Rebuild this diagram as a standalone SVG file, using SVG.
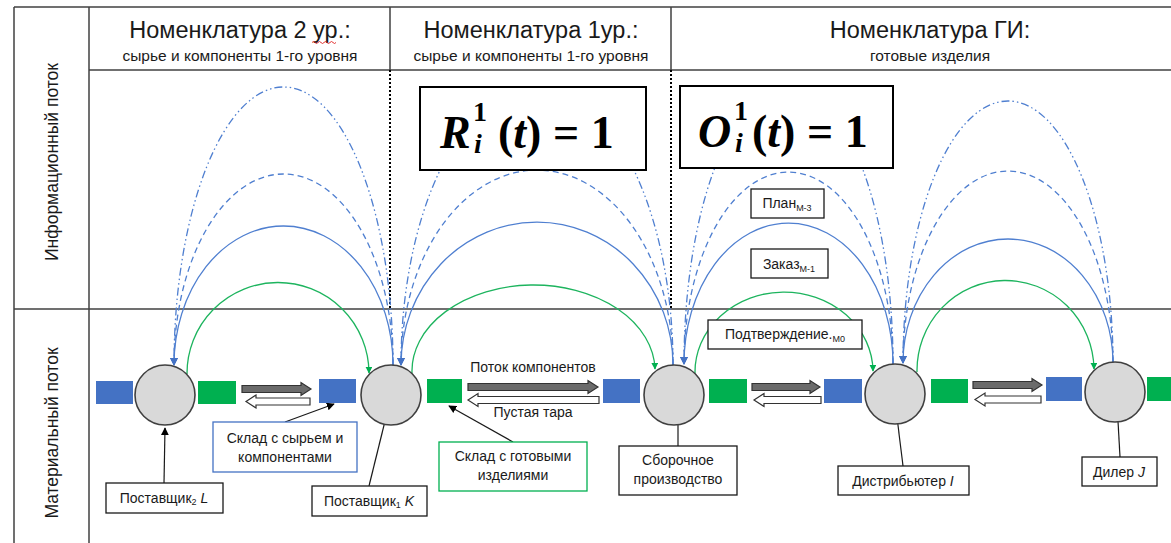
<svg xmlns="http://www.w3.org/2000/svg" width="1171" height="543" viewBox="0 0 1171 543">
  <defs>
    <style>
      .grid { stroke: #404040; stroke-width: 1.5; fill: none; }
      .dots { stroke: #000; stroke-width: 2; stroke-dasharray: 2 2; fill: none; }
      .h1 { font-family: "Liberation Sans", Arial, sans-serif; font-size: 23.5px; fill: #1a1a1a; text-anchor: middle; }
      .h2 { font-family: "Liberation Sans", Arial, sans-serif; font-size: 15.5px; fill: #1a1a1a; text-anchor: middle; }
      .axis { font-family: "Liberation Sans", Arial, sans-serif; font-size: 17.5px; fill: #1a1a1a; text-anchor: middle; }
      .lbl { font-family: "Liberation Sans", Arial, sans-serif; font-size: 14px; fill: #1a1a1a; text-anchor: middle; }
      .box { fill: #fff; stroke: #1a1a1a; stroke-width: 1.3; }
      .box-blue { fill: #fff; stroke: #4472C4; stroke-width: 1.3; }
      .box-green { fill: #fff; stroke: #00B050; stroke-width: 1.3; }
      .fbox { fill: #fff; stroke: #000; stroke-width: 2; }
      .formula { font-family: "Liberation Serif", "Times New Roman", serif; font-weight: bold; fill: #000; }
      .node { fill: #D9D9D9; stroke: #404040; stroke-width: 1.6; }
      .raw { fill: #4472C4; }
      .fin { fill: #00B050; }
      .fwd { fill: #6b6b6b; stroke: #333; stroke-width: 1.2; }
      .back { fill: #fff; stroke: #333; stroke-width: 1.2; }
      .info { fill: none; stroke: #4F7FD0; stroke-width: 1.3; marker-end: url(#tipBlue); }
      .solid { }
      .dash { stroke-dasharray: 6 4; }
      .dashdot { stroke-dasharray: 8 3 1.5 3 1.5 3; }
      .conf { fill: none; stroke: #1DB45E; stroke-width: 1.3; marker-end: url(#tipGreen); }
      .ptr { fill: none; stroke: #1a1a1a; stroke-width: 1.2; marker-end: url(#tipBlack); }
    </style>
    <marker id="tipBlue" viewBox="0 0 10 10" refX="9" refY="5" markerWidth="8" markerHeight="8" markerUnits="userSpaceOnUse" orient="auto">
      <path d="M0,0 L10,5 L0,10 Z" fill="#4472C4"/>
    </marker>
    <marker id="tipGreen" viewBox="0 0 10 10" refX="9" refY="5" markerWidth="7" markerHeight="7" markerUnits="userSpaceOnUse" orient="auto">
      <path d="M0,0 L10,5 L0,10 Z" fill="#00B050"/>
    </marker>
    <marker id="tipBlack" viewBox="0 0 10 10" refX="9" refY="5" markerWidth="8" markerHeight="8" markerUnits="userSpaceOnUse" orient="auto">
      <path d="M0,0 L10,5 L0,10 Z" fill="#000"/>
    </marker>
  </defs>

  <rect width="1171" height="543" fill="#fff"/>

  <!-- table frame -->
  <g id="table">
    <line class="grid" x1="14" y1="7" x2="1171" y2="7"/>
    <line class="grid" x1="14" y1="7" x2="14" y2="543"/>
    <line class="grid" x1="89" y1="7" x2="89" y2="543"/>
    <line class="grid" x1="89" y1="70" x2="1171" y2="70"/>
    <line class="grid" x1="14" y1="309" x2="1171" y2="309"/>
    <line class="grid" x1="390" y1="7" x2="390" y2="70"/>
    <line class="grid" x1="671" y1="7" x2="671" y2="70"/>
    <line class="dots" x1="390" y1="70" x2="390" y2="309"/>
    <line class="dots" x1="671" y1="70" x2="671" y2="309"/>
  </g>

  <!-- column headers -->
  <g id="header-level2">
    <text class="h1" x="240" y="38">Номенклатура 2 ур.:</text>
    <path d="M312,42.5 q1.5,-2 3,0 t3,0 t3,0 t3,0 t3,0 t3,0 t3,0 t3,0" fill="none" stroke="#e02020" stroke-width="0.9"/>
    <text class="h2" x="240" y="61">сырье и компоненты 1-го уровня</text>
  </g>
  <g id="header-level1">
    <text class="h1" x="531" y="38">Номенклатура 1ур.:</text>
    <text class="h2" x="531" y="61">сырье и компоненты 1-го уровня</text>
  </g>
  <g id="header-finished">
    <text class="h1" x="930" y="38">Номенклатура ГИ:</text>
    <text class="h2" x="930" y="61">готовые изделия</text>
  </g>

  <!-- row labels -->
  <g id="row-info">
    <text class="axis" transform="translate(58,162) rotate(-90)">Информационный поток</text>
  </g>
  <g id="row-material">
    <text class="axis" transform="translate(58,433) rotate(-90)">Материальный поток</text>
  </g>

  <!-- information (blue) and confirmation (green) arcs -->
  <g id="connectors">
    <!-- Поставщик2 L <-> Поставщик1 K -->
    <path class="info dashdot" d="M393,365 A109.5,278 0 0 0 174,365"/>
    <path class="info dash" d="M393,365 A109.5,191 0 0 0 174,365"/>
    <path class="info solid" d="M393,365 A109.5,139 0 0 0 174,365"/>
    <path class="conf" d="M187,374 A91,91 0 0 1 369,373"/>

    <!-- Поставщик1 K <-> Сборочное производство -->
    <path class="info dashdot" d="M673,365 A136,278 0 0 0 401,365"/>
    <path class="info dash" d="M673,365 A136,195 0 0 0 401,365"/>
    <path class="info solid" d="M673,365 A136,143 0 0 0 401,365"/>
    <path class="conf" d="M412,373 A121.5,86 0 0 1 655,369"/>

    <!-- Сборочное производство <-> Дистрибьютер I -->
    <path class="info dashdot" d="M893,364 A104.5,277 0 0 0 684,364"/>
    <path class="info dash" d="M893,364 A104.5,192 0 0 0 684,364"/>
    <path class="info solid" d="M893,364 A104.5,141 0 0 0 684,364"/>
    <path class="conf" d="M695,373 A89,80 0 0 1 873,371"/>

    <!-- Дистрибьютер I <-> Дилер J -->
    <path class="info dashdot" d="M1113,363 A105,262 0 0 0 903,363"/>
    <path class="info dash" d="M1113,363 A105,192 0 0 0 903,363"/>
    <path class="info solid" d="M1113,363 A105,124 0 0 0 903,363"/>
    <path class="conf" d="M917,372 A88.5,90 0 0 1 1094,369"/>

    <!-- material flow block arrows: goods forward, empty containers back -->
    <path class="fwd" d="M242,385.5 L301,385.5 L301,382.5 L311,389 L301,395.5 L301,392.5 L242,392.5 Z"/>
    <path class="back" d="M310,398 L256,398 L256,395 L246,401.5 L256,408 L256,405 L310,405 Z"/>

    <path class="fwd" d="M468,383.5 L588,383.5 L588,380.5 L598,387 L588,393.5 L588,390.5 L468,390.5 Z"/>
    <path class="back" d="M599,396.5 L478,396.5 L478,393.5 L468,400 L478,406.5 L478,403.5 L599,403.5 Z"/>

    <path class="fwd" d="M752,383.5 L810,383.5 L810,380.5 L820,387 L810,393.5 L810,390.5 L752,390.5 Z"/>
    <path class="back" d="M821,396.5 L764,396.5 L764,393.5 L754,400 L764,406.5 L764,403.5 L821,403.5 Z"/>

    <path class="fwd" d="M973,381.5 L1032,381.5 L1032,378.5 L1042,385 L1032,391.5 L1032,388.5 L973,388.5 Z"/>
    <path class="back" d="M1041,396 L985,396 L985,393 L975,399.5 L985,406 L985,403 L1041,403 Z"/>

    <!-- callout pointers -->
    <line class="ptr" x1="164" y1="483" x2="165" y2="428"/>
    <line class="ptr" x1="285" y1="422" x2="334" y2="404"/>
    <line class="ptr" x1="369" y1="486" x2="388" y2="409"/>
    <line class="ptr" x1="513" y1="442" x2="449" y2="406"/>
    <line class="ptr" x1="678" y1="446" x2="678" y2="401"/>
    <line class="ptr" x1="903" y1="466" x2="895" y2="401"/>
    <line class="ptr" x1="1120" y1="457" x2="1117" y2="403"/>
  </g>

  <!-- flow labels -->
  <g id="flow-labels">
    <text class="lbl" font-size="14.5" x="533" y="372">Поток компонентов</text>
    <text class="lbl" font-size="14.5" x="533" y="417">Пустая тара</text>
  </g>

  <!-- storage blocks -->
  <g id="stocks">
    <rect class="raw" x="96" y="381" width="37" height="23"/>
    <rect class="fin" x="198" y="381" width="38" height="23"/>
    <rect class="raw" x="319" y="379" width="37" height="24"/>
    <rect class="fin" x="427" y="379" width="35" height="24"/>
    <rect class="raw" x="603" y="379" width="37" height="24"/>
    <rect class="fin" x="709" y="379" width="38" height="24"/>
    <rect class="raw" x="824" y="379" width="38" height="24"/>
    <rect class="fin" x="931" y="379" width="37" height="24"/>
    <rect class="raw" x="1046" y="377" width="36" height="24"/>
    <rect class="fin" x="1147" y="377" width="30" height="24"/>
  </g>

  <!-- supply chain participants -->
  <g id="node-supplier-L"><circle class="node" cx="165" cy="395" r="30"/></g>
  <g id="node-supplier-K"><circle class="node" cx="391" cy="395" r="30"/></g>
  <g id="node-assembly"><circle class="node" cx="674" cy="395" r="30"/></g>
  <g id="node-distributor"><circle class="node" cx="895" cy="394" r="30"/></g>
  <g id="node-dealer"><circle class="node" cx="1115" cy="392" r="30"/></g>

  <!-- formula boxes -->
  <g id="formula-R">
    <rect class="fbox" x="420" y="87" width="226" height="83"/>
    <text class="formula" font-size="46" x="440" y="148"><tspan font-style="italic">R</tspan></text>
    <text class="formula" font-size="28" x="473" y="121">1</text>
    <text class="formula" font-size="28" font-style="italic" x="474" y="153">i</text>
    <text class="formula" font-size="46" x="498" y="148"><tspan>(</tspan><tspan font-style="italic">t</tspan><tspan>) = 1</tspan></text>
  </g>
  <g id="formula-O">
    <rect class="fbox" x="680" y="86" width="213" height="82"/>
    <text class="formula" font-size="46" font-style="italic" x="698" y="147">O</text>
    <text class="formula" font-size="28" x="734" y="120">1</text>
    <text class="formula" font-size="28" font-style="italic" x="735" y="152">i</text>
    <text class="formula" font-size="46" x="752" y="147"><tspan>(</tspan><tspan font-style="italic">t</tspan><tspan>) = 1</tspan></text>
  </g>

  <!-- info arc labels -->
  <g id="label-plan">
    <rect class="box" x="751" y="189" width="73" height="29"/>
    <text class="lbl" font-size="13" x="787" y="208">План<tspan font-size="9" dy="3">М-3</tspan></text>
  </g>
  <g id="label-order">
    <rect class="box" x="751" y="249" width="77" height="29"/>
    <text class="lbl" font-size="13" x="789" y="269">Заказ<tspan font-size="9" dy="3">М-1</tspan></text>
  </g>
  <g id="label-confirm">
    <rect class="box" x="708" y="320" width="154" height="29"/>
    <text class="lbl" font-size="14" x="785" y="339">Подтверждение.<tspan font-size="9" dy="3">М0</tspan></text>
  </g>

  <!-- callout boxes -->
  <g id="label-raw-stock">
    <rect class="box-blue" x="213" y="422" width="144" height="50"/>
    <text class="lbl" x="285" y="443">Склад с сырьем и</text>
    <text class="lbl" x="285" y="462">компонентами</text>
  </g>
  <g id="label-supplier-L">
    <rect class="box" x="106" y="483" width="117" height="30"/>
    <text class="lbl" x="164" y="503">Поставщик<tspan font-size="9" dy="2">2</tspan><tspan dy="-2"> </tspan><tspan font-style="italic">L</tspan></text>
  </g>
  <g id="label-supplier-K">
    <rect class="box" x="312" y="486" width="115" height="30"/>
    <text class="lbl" x="369" y="506">Поставщик<tspan font-size="9" dy="2">1</tspan><tspan dy="-2"> </tspan><tspan font-style="italic">K</tspan></text>
  </g>
  <g id="label-finished-stock">
    <rect class="box-green" x="439" y="442" width="148" height="49"/>
    <text class="lbl" x="513" y="461">Склад с готовыми</text>
    <text class="lbl" x="513" y="480">изделиями</text>
  </g>
  <g id="label-assembly">
    <rect class="box" x="619" y="446" width="118" height="49"/>
    <text class="lbl" x="678" y="465">Сборочное</text>
    <text class="lbl" x="678" y="484">производство</text>
  </g>
  <g id="label-distributor">
    <rect class="box" x="838" y="466" width="131" height="29"/>
    <text class="lbl" x="903" y="486">Дистрибьютер <tspan font-style="italic">I</tspan></text>
  </g>
  <g id="label-dealer">
    <rect class="box" x="1082" y="457" width="75" height="29"/>
    <text class="lbl" x="1119" y="477">Дилер <tspan font-style="italic">J</tspan></text>
  </g>
</svg>
